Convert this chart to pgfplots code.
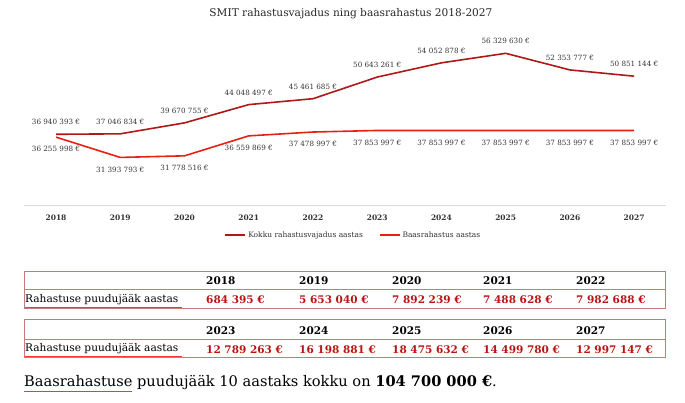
\documentclass[border=0pt]{standalone}
\usepackage{fontspec}
\setmainfont{DejaVu Serif}
\usepackage{pgfplots}
\pgfplotsset{compat=1.18}
\usetikzlibrary{decorations.pathmorphing}

\definecolor{kokku}{RGB}{176,24,24}
\definecolor{baas}{RGB}{232,32,20}
\definecolor{axisgray}{RGB}{217,217,217}
\definecolor{labgray}{RGB}{50,50,50}
\definecolor{tabline}{RGB}{205,120,120}
\definecolor{valred}{RGB}{185,20,20}

\newcommand\fs[1]{\fontsize{#1}{#1}\selectfont}

\begin{document}
\begin{tikzpicture}[x=1pt,y=1pt]
\path (0,0) rectangle (685,-402);

% title
\node[font=\fs{10.6}, text=black!85] at (351,-14) {SMIT rahastusvajadus ning baasrahastus 2018-2027};

\begin{axis}[
  at={(23.9pt,-205pt)}, anchor=south west,
  scale only axis, width=642.4pt, height=167pt,
  xmin=-0.5, xmax=9.5, ymin=20000000, ymax=60000000,
  axis y line=none, axis x line=bottom,
  x axis line style={axisgray, line width=1pt, -},
  xtick={0,...,9},
  xticklabels={2018,2019,2020,2021,2022,2023,2024,2025,2026,2027},
  major tick length=0,
  xticklabel style={font=\fs{7.5}\bfseries, text=labgray, anchor=center, yshift=-12.5pt},
  clip=false,
  legend columns=2,
  legend style={at={(0.513,-0.18)}, anchor=center, draw=none, fill=none,
    font=\fs{7.5}, text=labgray, inner sep=0pt,
    /tikz/every even column/.append style={column sep=14pt}},
  legend image code/.code={\draw[#1] (0pt,0pt) -- (20pt,0pt);},
  point meta=explicit symbolic,
  nodes near coords,
]
\addplot[kokku, line width=1.6pt, mark=none,
  every node near coord/.append style={font=\fs{7.2}, text=labgray, anchor=center, yshift=12pt}]
  coordinates {
  (0,36940393) [36 940 393 €]
  (1,37046834) [37 046 834 €]
  (2,39670755) [39 670 755 €]
  (3,44048497) [44 048 497 €]
  (4,45461685) [45 461 685 €]
  (5,50643261) [50 643 261 €]
  (6,54052878) [54 052 878 €]
  (7,56329630) [56 329 630 €]
  (8,52353777) [52 353 777 €]
  (9,50851144) [50 851 144 €]
};
\addlegendentry{Kokku rahastusvajadus aastas}
\addplot[baas, line width=1.6pt, mark=none,
  every node near coord/.append style={font=\fs{7.2}, text=labgray, anchor=center, yshift=-12pt}]
  coordinates {
  (0,36255998) [36 255 998 €]
  (1,31393793) [31 393 793 €]
  (2,31778516) [31 778 516 €]
  (3,36559869) [36 559 869 €]
  (4,37478997) [37 478 997 €]
  (5,37853997) [37 853 997 €]
  (6,37853997) [37 853 997 €]
  (7,37853997) [37 853 997 €]
  (8,37853997) [37 853 997 €]
  (9,37853997) [37 853 997 €]
};
\addlegendentry{Baasrahastus aastas}
\end{axis}

% tables
\draw[tabline, line width=1pt] (24,-271) rectangle (665,-308.3);
\draw[tabline, line width=1pt] (24,-289.3) -- (665,-289.3);
\draw[tabline, line width=1pt] (24,-319.3) rectangle (665,-357.7);
\draw[tabline, line width=1pt] (24,-339) -- (665,-339);

\begin{scope}[every node/.style={anchor=west, inner sep=0pt}]
\foreach \x/\y in {206/2018, 299/2019, 392/2020, 483/2021, 576/2022}
  \node[font=\fs{10.5}\bfseries] at (\x,-281) {\y};
\foreach \x/\v in {206/684 395 €, 299/5 653 040 €, 392/7 892 239 €, 483/7 488 628 €, 576/7 982 688 €}
  \node[font=\fs{10.5}\bfseries, text=valred] at (\x,-300) {\v};
\node[font=\fs{10.6}] at (25,-299.5) {Rahastuse puudujääk aastas};

\foreach \x/\y in {206/2023, 299/2024, 392/2025, 483/2026, 576/2027}
  \node[font=\fs{10.5}\bfseries] at (\x,-330.5) {\y};
\foreach \x/\v in {206/12 789 263 €, 299/16 198 881 €, 392/18 475 632 €, 483/14 499 780 €, 576/12 997 147 €}
  \node[font=\fs{10.5}\bfseries, text=valred] at (\x,-349.5) {\v};
\node[font=\fs{10.6}] at (25,-349) {Rahastuse puudujääk aastas};

\node[font=\fs{14.6}] at (24,-383) {Baasrahastuse puudujääk 10 aastaks kokku on \textbf{104 700 000 €}.};
\end{scope}

% spell-check underlines
\begin{scope}[red!80, line width=0.4pt, decorate, decoration={snake, amplitude=0.7pt, segment length=2.5pt}]
\draw (25,-307) -- (182,-307);
\draw (25,-356) -- (182,-356);
\draw (24,-391.5) -- (132,-391.5);
\end{scope}
\end{tikzpicture}
\end{document}
